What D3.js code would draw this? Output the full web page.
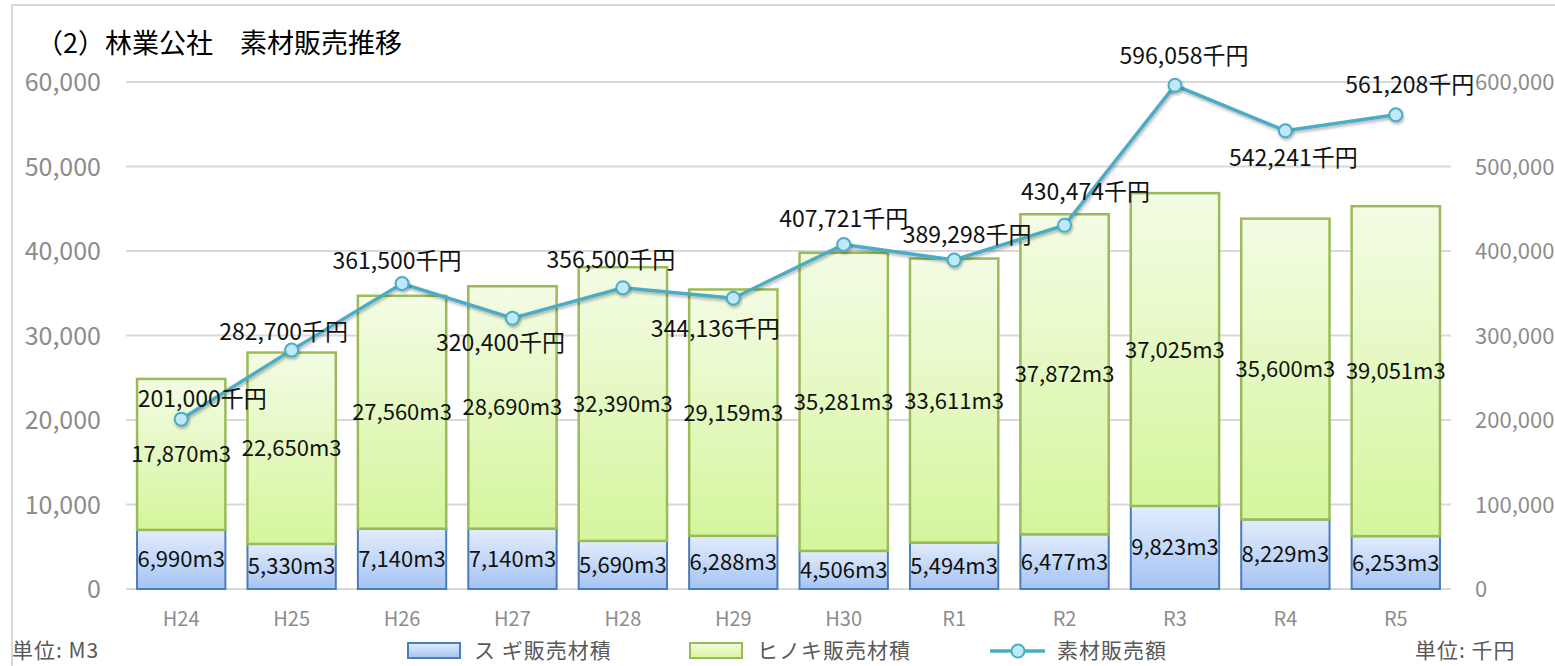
<!DOCTYPE html>
<html>
<head>
<meta charset="utf-8">
<script src="https://cdn.jsdelivr.net/npm/d3@7"></script>
<style>
  body { margin: 0; background: #fff; }
  svg text { font-family: "Noto Sans CJK JP", "Noto Sans", sans-serif; }
</style>
</head>
<body>
<svg id="chart" width="1555" height="666"></svg>
<script>
// data
var years = ["H24", "H25", "H26", "H27", "H28", "H29", "H30", "R1", "R2", "R3", "R4", "R5"];
var sugi = [6990, 5330, 7140, 7140, 5690, 6288, 4506, 5494, 6477, 9823, 8229, 6253];
var hinoki = [17870, 22650, 27560, 28690, 32390, 29159, 35281, 33611, 37872, 37025, 35600, 39051];
var sales = [201000, 282700, 361500, 320400, 356500, 344136, 407721, 389298, 430474, 596058, 542241, 561208];
var leftTicks = [0, 10000, 20000, 30000, 40000, 50000, 60000];
var rightTicks = [0, 100000, 200000, 300000, 400000, 500000, 600000];
// where the sales labels sit relative to their point
var labelDx = [21, -8, -5, -12, -12, -18, 0, 13, 21, 9, 8, 14];
var labelDy = [-12, -10, -15, 33, -20, 39, -17, -17, -25, -21, 35, -22];

var svg = d3.select("#chart");
var defs = svg.append("defs");

function grad(id, top, bottom) {
    var g = defs.append("linearGradient").attr("id", id)
        .attr("x1", 0).attr("y1", 0).attr("x2", 0).attr("y2", 1);
    g.append("stop").attr("offset", "0%").attr("stop-color", top);
    g.append("stop").attr("offset", "100%").attr("stop-color", bottom);
}
grad("gBlue", "#e3ecfc", "#a5c4f3");
grad("gGreen", "#f3fce4", "#d5f59c");

var shadow = defs.append("filter").attr("id", "shadow")
    .attr("x", "-20%").attr("y", "-20%").attr("width", "140%").attr("height", "160%");
shadow.append("feDropShadow").attr("dx", 1).attr("dy", 2).attr("stdDeviation", 1.5)
    .attr("flood-color", "#000").attr("flood-opacity", 0.3);

// frame
svg.append("rect").attr("x", 12).attr("y", 5).attr("width", 1560).attr("height", 700)
    .attr("fill", "none").attr("stroke", "#d9d9d9").attr("stroke-width", 2);

svg.append("text").attr("x", 36).attr("y", 53)
    .attr("font-size", 27).attr("fill", "#000")
    .text("（2）林業公社　素材販売推移");

var x = d3.scaleBand().domain(years).range([126, 1451]).paddingInner(0.2).paddingOuter(0.1);
var y = d3.scaleLinear().domain([0, 60000]).range([589, 82]);
var y2 = d3.scaleLinear().domain([0, 600000]).range([589, 82]);
var fmt = d3.format(",");

// grid
svg.append("g").selectAll("line").data(leftTicks).enter().append("line")
    .attr("x1", 126).attr("x2", 1451)
    .attr("y1", d => y(d)).attr("y2", d => y(d))
    .attr("stroke", "#d9d9d9").attr("stroke-width", 2);

// axes labels
svg.append("g").selectAll("text").data(leftTicks).enter().append("text")
    .attr("x", 101).attr("y", d => y(d) + 9)
    .attr("text-anchor", "end").attr("font-size", 25).attr("fill", "#8c8c8c")
    .text(d => fmt(d));

svg.append("g").selectAll("text").data(rightTicks).enter().append("text")
    .attr("x", 1475).attr("y", d => y2(d) + 8)
    .attr("text-anchor", "start").attr("font-size", 22).attr("fill", "#8c8c8c")
    .text(d => fmt(d));

svg.append("g").selectAll("text").data(years).enter().append("text")
    .attr("x", d => x(d) + x.bandwidth() / 2).attr("y", 626)
    .attr("text-anchor", "middle").attr("font-size", 20).attr("fill", "#8c8c8c")
    .text(d => d);

// bars
var bars = svg.append("g");
bars.selectAll("rect.sugi").data(years).enter().append("rect")
    .attr("class", "sugi")
    .attr("x", d => x(d)).attr("width", x.bandwidth())
    .attr("y", (d, i) => y(sugi[i])).attr("height", (d, i) => y(0) - y(sugi[i]))
    .attr("fill", "url(#gBlue)").attr("stroke", "#4a7ebb").attr("stroke-width", 2);

bars.selectAll("rect.hinoki").data(years).enter().append("rect")
    .attr("class", "hinoki")
    .attr("x", d => x(d)).attr("width", x.bandwidth())
    .attr("y", (d, i) => y(sugi[i] + hinoki[i]))
    .attr("height", (d, i) => y(sugi[i]) - y(sugi[i] + hinoki[i]))
    .attr("fill", "url(#gGreen)").attr("stroke", "#9bbb59").attr("stroke-width", 2.5);

bars.selectAll("text.sugi").data(years).enter().append("text")
    .attr("x", d => x(d) + x.bandwidth() / 2)
    .attr("y", (d, i) => (y(0) + y(sugi[i])) / 2 + 8)
    .attr("text-anchor", "middle").attr("font-size", 22).attr("fill", "#111")
    .text((d, i) => fmt(sugi[i]) + "m3");

bars.selectAll("text.hinoki").data(years).enter().append("text")
    .attr("x", d => x(d) + x.bandwidth() / 2)
    .attr("y", (d, i) => (y(sugi[i]) + y(sugi[i] + hinoki[i])) / 2 + 8)
    .attr("text-anchor", "middle").attr("font-size", 22).attr("fill", "#111")
    .text((d, i) => fmt(hinoki[i]) + "m3");

// line
var cx = d => x(d) + x.bandwidth() / 2;
var line = d3.line().x(d => cx(d)).y((d, i) => y2(sales[i]));
svg.append("path").datum(years)
    .attr("d", line)
    .attr("fill", "none").attr("stroke", "#4bacc6").attr("stroke-width", 3.5)
    .attr("filter", "url(#shadow)");

svg.append("g").selectAll("circle").data(years).enter().append("circle")
    .attr("cx", d => cx(d)).attr("cy", (d, i) => y2(sales[i])).attr("r", 6.5)
    .attr("fill", "#bfe9f8").attr("stroke", "#4bacc6").attr("stroke-width", 2)
    .attr("filter", "url(#shadow)");

svg.append("g").selectAll("text").data(years).enter().append("text")
    .attr("x", (d, i) => cx(d) + labelDx[i])
    .attr("y", (d, i) => y2(sales[i]) + labelDy[i])
    .attr("text-anchor", "middle").attr("font-size", 23).attr("fill", "#111")
    .text((d, i) => fmt(sales[i]) + "千円");

// legend
var lg = svg.append("g").attr("font-size", 21).attr("fill", "#595959")
    .attr("letter-spacing", 1);
lg.append("rect").attr("x", 408).attr("y", 643).attr("width", 52).attr("height", 15)
    .attr("fill", "url(#gBlue)").attr("stroke", "#4a7ebb").attr("stroke-width", 2);
lg.append("text").attr("x", 474).attr("y", 658).text("ス ギ販売材積");
lg.append("rect").attr("x", 690).attr("y", 643).attr("width", 52).attr("height", 15)
    .attr("fill", "url(#gGreen)").attr("stroke", "#9bbb59").attr("stroke-width", 2);
lg.append("text").attr("x", 757).attr("y", 658).text("ヒノキ販売材積");
lg.append("line").attr("x1", 990).attr("x2", 1045).attr("y1", 651).attr("y2", 651)
    .attr("stroke", "#4bacc6").attr("stroke-width", 3.5);
lg.append("circle").attr("cx", 1018).attr("cy", 651).attr("r", 6.5)
    .attr("fill", "#bfe9f8").attr("stroke", "#4bacc6").attr("stroke-width", 2);
lg.append("text").attr("x", 1057).attr("y", 658).text("素材販売額");

lg.append("text").attr("x", 12).attr("y", 658).text("単位: M3");
lg.append("text").attr("x", 1415).attr("y", 658).text("単位: 千円");
</script>
</body>
</html>
